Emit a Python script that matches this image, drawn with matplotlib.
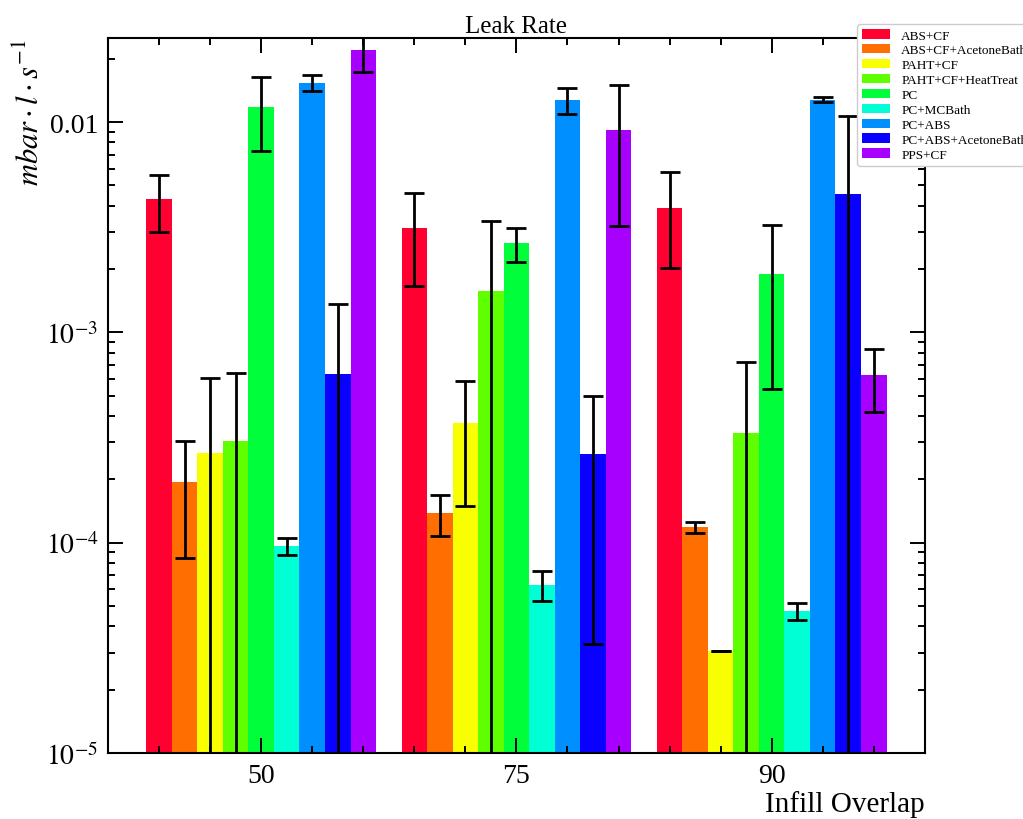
import matplotlib
matplotlib.use("Agg")
import matplotlib.pyplot as plt
import numpy as np
from matplotlib.ticker import FixedLocator, FixedFormatter, MultipleLocator, LogLocator, NullFormatter

plt.rcParams['font.family'] = ['Liberation Serif', 'DejaVu Serif']
plt.rcParams['mathtext.fontset'] = 'stix'

# data
groups = ["50", "75", "90"]
materials = ["ABS+CF", "ABS+CF+AcetoneBath", "PAHT+CF", "PAHT+CF+HeatTreat", "PC",
             "PC+MCBath", "PC+ABS", "PC+ABS+AcetoneBath", "PPS+CF"]
colors = ["#ff0030", "#ff6e00", "#f8ff00", "#5fff00", "#00ff3a",
          "#00ffd5", "#008fff", "#0a00ff", "#a800ff"]

# leak rate per material, one value per infill overlap group (50, 75, 90)
rate = {
    "ABS+CF":             [4.29e-3, 3.13e-3, 3.91e-3],
    "ABS+CF+AcetoneBath": [1.95e-4, 1.38e-4, 1.185e-4],
    "PAHT+CF":            [2.67e-4, 3.70e-4, 3.04e-5],
    "PAHT+CF+HeatTreat":  [3.05e-4, 1.58e-3, 3.31e-4],
    "PC":                 [1.18e-2, 2.65e-3, 1.89e-3],
    "PC+MCBath":          [9.6e-5, 6.3e-5, 4.73e-5],
    "PC+ABS":             [1.54e-2, 1.27e-2, 1.28e-2],
    "PC+ABS+AcetoneBath": [6.31e-4, 2.65e-4, 4.53e-3],
    "PPS+CF":             [2.19e-2, 9.12e-3, 6.25e-4],
}
err = {
    "ABS+CF":             [1.30e-3, 1.47e-3, 1.88e-3],
    "ABS+CF+AcetoneBath": [1.1e-4, 3.0e-5, 7e-6],
    "PAHT+CF":            [3.4e-4, 2.2e-4, 0.0],
    "PAHT+CF+HeatTreat":  [3.33e-4, 1.82e-3, 3.95e-4],
    "PC":                 [4.5e-3, 5.0e-4, 1.35e-3],
    "PC+MCBath":          [9e-6, 1.0e-5, 4.4e-6],
    "PC+ABS":             [1.4e-3, 1.8e-3, 4e-4],
    "PC+ABS+AcetoneBath": [7.4e-4, 2.32e-4, 6.2e-3],
    "PPS+CF":             [4.6e-3, 5.9e-3, 2.05e-4],
}

fig = plt.figure(figsize=(10.23, 8.2), dpi=100)
ax = fig.add_axes([0.1056, 0.0805, 0.7984, 0.8719])

x = np.arange(len(groups))
w = 0.1
for i, m in enumerate(materials):
    pos = x + (i - 4) * w
    ax.bar(pos, rate[m], width=w, color=colors[i], linewidth=0, label=m)
    ax.errorbar(pos, rate[m], yerr=err[m], fmt='none', ecolor='black',
                elinewidth=2, capsize=7, capthick=2)

ax.set_yscale('log')
ax.set_ylim(1e-5, 0.0251)
ax.set_xlim(-0.6, 2.6)

ax.xaxis.set_major_locator(FixedLocator(x))
ax.xaxis.set_major_formatter(FixedFormatter(groups))
ax.xaxis.set_minor_locator(MultipleLocator(0.2))
ax.yaxis.set_major_locator(FixedLocator([1e-5, 1e-4, 1e-3, 1e-2]))
ax.yaxis.set_major_formatter(FixedFormatter([r"$10^{-5}$", r"$10^{-4}$", r"$10^{-3}$", "0.01"]))
ax.yaxis.set_minor_locator(LogLocator(base=10, subs=np.arange(2, 10), numticks=20))
ax.yaxis.set_minor_formatter(NullFormatter())

ax.tick_params(which='both', direction='in', top=True, right=True, width=1.4)
ax.tick_params(which='major', length=11, labelsize=20, pad=7)
ax.tick_params(which='minor', length=5)
for s in ax.spines.values():
    s.set_linewidth(1.5)

ax.set_title("Leak Rate", fontsize=18, pad=4)
ax.set_xlabel("Infill Overlap", fontsize=21, loc='right')
ax.xaxis.set_label_coords(1.0, -0.052)
ax.set_ylabel(r"$mbar \cdot l \cdot s^{-1}$", fontsize=22, loc='top')
ax.yaxis.set_label_coords(-0.076, 1.0)

ax.legend(loc='upper left', bbox_to_anchor=(857 / 1023, 1 - 25 / 820),
          bbox_transform=fig.transFigure, borderaxespad=0, fontsize=9.5,
          handlelength=2.1, handleheight=0.7, labelspacing=0.2,
          handletextpad=0.85, borderpad=0.4, frameon=True, edgecolor='#cccccc',
          fancybox=True, framealpha=1)

fig.savefig("out.png", dpi=100)
